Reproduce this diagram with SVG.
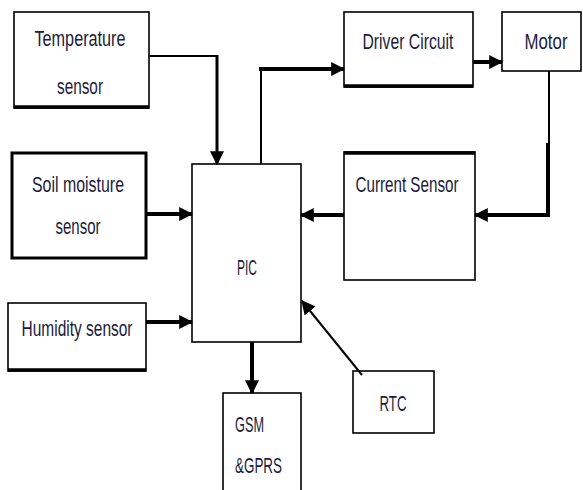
<svg xmlns="http://www.w3.org/2000/svg" width="583" height="490" viewBox="0 0 583 490">
<defs>
<style>
.box{fill:#fff;stroke:#000;stroke-width:1.6}
.thick{stroke:#000;stroke-width:3.5;fill:none}
.lbl{font-family:"Liberation Sans",Arial,sans-serif;font-size:22px;fill:#1c1c3c;text-anchor:middle}
.c{fill:none;stroke:#000;stroke-linejoin:miter}
.t{stroke-width:2}
.b{stroke-width:4}
</style>
<marker id="ah" markerUnits="userSpaceOnUse" markerWidth="14" markerHeight="14" viewBox="0 0 12 12" refX="11" refY="6" orient="auto">
<path d="M0,0 L12,6 L0,12 Z" fill="#000"/>
</marker>
</defs>
<rect width="583" height="490" fill="#fff"/>

<g id="temperature">
<rect class="box" x="14" y="12" width="135" height="96"/>
<line class="thick" x1="14" y1="107" x2="149" y2="107"/>
<text class="lbl" x="80" y="46" textLength="91" lengthAdjust="spacingAndGlyphs">Temperature</text>
<text class="lbl" x="80" y="94" textLength="46" lengthAdjust="spacingAndGlyphs">sensor</text>
</g>

<g id="driver">
<rect class="box" x="344" y="12" width="129" height="75"/>
<line class="thick" x1="344" y1="86" x2="473" y2="86"/>
<text class="lbl" x="408" y="49" textLength="91" lengthAdjust="spacingAndGlyphs">Driver Circuit</text>
</g>

<g id="motor">
<rect class="box" x="502" y="12" width="79" height="59"/>
<text class="lbl" x="546" y="49" textLength="43" lengthAdjust="spacingAndGlyphs">Motor</text>
</g>

<g id="soil">
<rect class="box" x="12" y="153" width="134" height="105" style="stroke-width:3"/>
<text class="lbl" x="78" y="192" textLength="92" lengthAdjust="spacingAndGlyphs">Soil moisture</text>
<text class="lbl" x="78" y="234" textLength="45" lengthAdjust="spacingAndGlyphs">sensor</text>
</g>

<g id="pic">
<rect class="box" x="192" y="164" width="109" height="178"/>
<text class="lbl" x="247" y="275" textLength="20" lengthAdjust="spacingAndGlyphs">PIC</text>
</g>

<g id="current">
<rect class="box" x="344" y="152" width="131" height="128"/>
<line class="thick" x1="344" y1="153" x2="475" y2="153"/>
<text class="lbl" x="407" y="192" textLength="103" lengthAdjust="spacingAndGlyphs">Current Sensor</text>
</g>

<g id="humidity">
<rect class="box" x="8" y="303" width="138" height="68"/>
<line class="thick" x1="8" y1="370" x2="146" y2="370"/>
<text class="lbl" x="77" y="336" textLength="111" lengthAdjust="spacingAndGlyphs">Humidity sensor</text>
</g>

<g id="gsm">
<rect class="box" x="223" y="393" width="78" height="100"/>
<text class="lbl" x="235" y="432" textLength="29" lengthAdjust="spacingAndGlyphs" style="text-anchor:start">GSM</text>
<text class="lbl" x="235" y="473" textLength="47" lengthAdjust="spacingAndGlyphs" style="text-anchor:start">&amp;GPRS</text>
</g>

<g id="rtc">
<rect class="box" x="353" y="371" width="81" height="62"/>
<text class="lbl" x="393" y="411" textLength="27" lengthAdjust="spacingAndGlyphs">RTC</text>
</g>

<g id="connectors">
<polyline class="c t" points="149,56 217,56"/>
<line class="c" x1="217" y1="55" x2="217" y2="164" stroke-width="3" marker-end="url(#ah)"/>
<polyline class="c t" points="261,164 261,69"/>
<line class="c b" x1="259" y1="69" x2="344" y2="69" marker-end="url(#ah)"/>
<line class="c b" x1="473" y1="62" x2="502" y2="62" marker-end="url(#ah)"/>
<line class="c t" x1="549" y1="71" x2="549" y2="144"/>
<polyline class="c b" points="548,143 548,215 475,215" marker-end="url(#ah)"/>
<line class="c b" x1="344" y1="215" x2="301" y2="215" marker-end="url(#ah)"/>
<line class="c b" x1="146" y1="214" x2="192" y2="214" marker-end="url(#ah)"/>
<line class="c b" x1="146" y1="322" x2="192" y2="322" marker-end="url(#ah)"/>
<line class="c b" x1="252" y1="342" x2="252" y2="393" marker-end="url(#ah)"/>
<line class="c t" x1="362" y1="375" x2="302" y2="301" marker-end="url(#ah)"/>
</g>
</svg>
